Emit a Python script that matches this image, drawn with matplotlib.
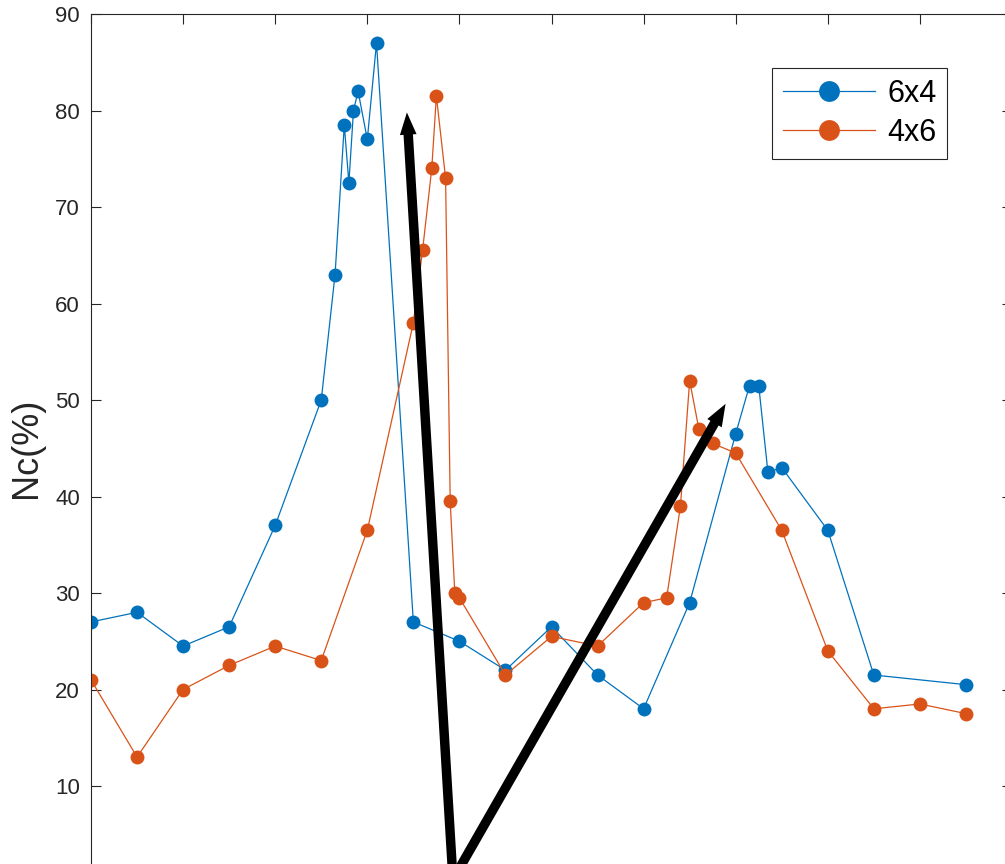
import matplotlib
matplotlib.use("Agg")
import matplotlib.pyplot as plt

plt.rcParams['font.family'] = ['Liberation Sans', 'DejaVu Sans']

# Positions along the scan (x) and measured Nc percentages
x_6x4 = [0, 0.5, 1, 1.5, 2, 2.5, 2.65, 2.75, 2.8, 2.85, 2.9, 3.0, 3.1,
         3.5, 4.0, 4.5, 5.0, 5.5, 6.0, 6.5, 7.0, 7.15, 7.25, 7.35, 7.5,
         8.0, 8.5, 9.5]
nc_6x4 = [27, 28, 24.5, 26.5, 37, 50, 63, 78.5, 72.5, 80, 82, 77, 87,
          27, 25, 22, 26.5, 21.5, 18, 29, 46.5, 51.5, 51.5, 42.5, 43,
          36.5, 21.5, 20.5]

x_4x6 = [0, 0.5, 1, 1.5, 2, 2.5, 3.0, 3.5, 3.6, 3.7, 3.75, 3.85, 3.9,
         3.95, 4.0, 4.5, 5.0, 5.5, 6.0, 6.25, 6.4, 6.5, 6.6, 6.75, 7.0,
         7.5, 8.0, 8.5, 9.0, 9.5]
nc_4x6 = [21, 13, 20, 22.5, 24.5, 23, 36.5, 58, 65.5, 74, 81.5, 73, 39.5,
          30, 29.5, 21.5, 25.5, 24.5, 29, 29.5, 39, 52, 47, 45.5, 44.5,
          36.5, 24, 18, 18.5, 17.5]

series_labels = ['6x4', '4x6']
y_ticks = [10, 20, 30, 40, 50, 60, 70, 80, 90]
x_ticks = list(range(0, 11))

# Arrows: shared tail and the two peak targets
arrow_tail = (3.93, 0.3)
arrow_tips = [(3.43, 79.8), (6.89, 49.6)]

fig = plt.figure(figsize=(10.05, 8.64), dpi=100)
ax = fig.add_axes([91 / 1005, (864 - 882.5) / 864, 921 / 1005, 868.5 / 864])

blue = '#0072BD'
orange = '#D95319'

ax.plot(x_6x4, nc_6x4, '-o', color=blue, lw=0.9, markersize=10,
        markeredgewidth=0, label=series_labels[0])
ax.plot(x_4x6, nc_4x6, '-o', color=orange, lw=0.9, markersize=10,
        markeredgewidth=0, label=series_labels[1])

for tip in arrow_tips:
    ax.annotate('', xy=tip, xytext=arrow_tail,
                arrowprops=dict(arrowstyle='simple,head_length=0.8,head_width=0.6,tail_width=0.34',
                                color='black', lw=0, mutation_scale=20,
                                shrinkA=0, shrinkB=0),
                annotation_clip=False)

ax.set_xlim(0, 10)
ax.set_ylim(0, 90)
ax.set_xticks(x_ticks)
ax.set_yticks(y_ticks)
ax.tick_params(direction='in', length=7, width=0.8, colors='#262626',
               labelsize=16, top=True, right=True, labelbottom=False)
ax.tick_params(axis='y', pad=8)
for sp in ax.spines.values():
    sp.set_color('#262626')
    sp.set_linewidth(0.8)

ax.set_ylabel('Nc(%)', fontsize=26, color='#262626', labelpad=8)

leg = ax.legend(loc='upper right', bbox_to_anchor=(0.9294, 0.9378),
                borderaxespad=0, fontsize=22, fancybox=False, framealpha=1,
                edgecolor='#262626', handlelength=3.0, handletextpad=0.4,
                borderpad=0.35, labelspacing=0.3, markerscale=1.5)
leg.get_frame().set_linewidth(0.8)

fig.savefig('out.png', dpi=100)
